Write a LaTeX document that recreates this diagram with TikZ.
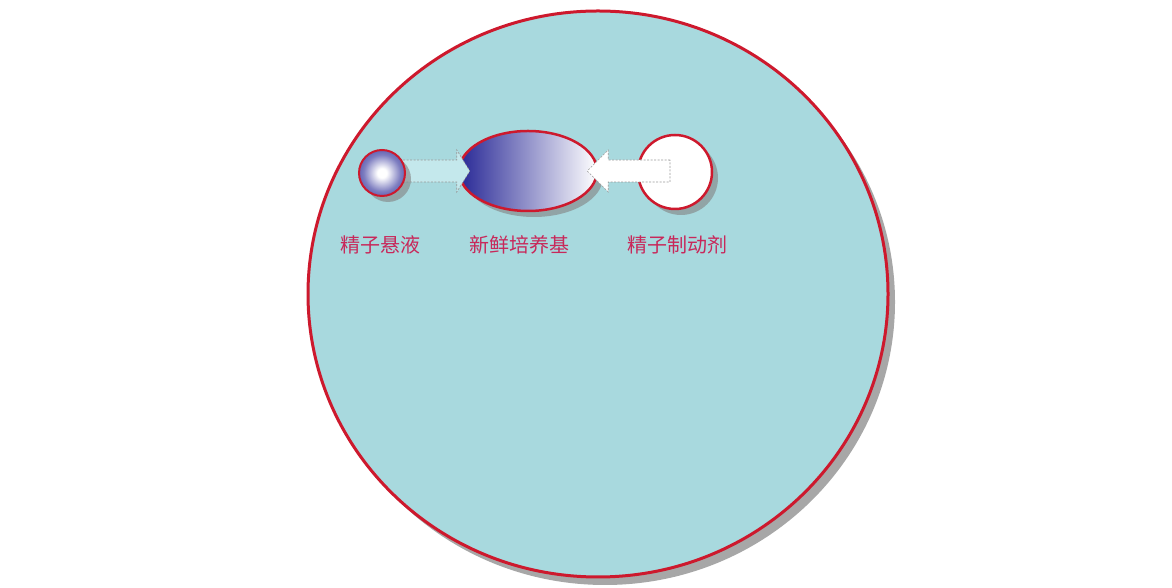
\documentclass[tikz,border=0pt]{standalone}
\usepackage{fontspec}
\newfontfamily\cjkfont{Noto Sans CJK SC}
\usetikzlibrary{shapes.geometric,shadows,calc}

\definecolor{dishblue}{RGB}{168,217,222}
\definecolor{rimred}{RGB}{205,25,45}
\definecolor{labelred}{RGB}{200,40,90}
\definecolor{mediumblue}{RGB}{40,40,150}
\definecolor{spherblue}{RGB}{70,70,165}
\definecolor{arrowcyan}{RGB}{196,232,236}
\definecolor{shadowgray}{RGB}{130,130,130}

\pgfdeclareradialshading{spheretone}{\pgfpoint{0bp}{0bp}}{%
  color(0bp)=(white); color(5bp)=(white); color(20bp)=(spherblue!70!white);
  color(32bp)=(spherblue); color(50bp)=(spherblue)}

\tikzset{
  rim/.style={draw=rimred, line width=2.5pt, inner sep=0pt},
  dropgray/.style={drop shadow={shadow xshift=6pt, shadow yshift=-6pt, fill=shadowgray, opacity=0.6}},
  flowarrow/.style={draw=gray!80, line width=0.6pt, dash pattern=on 2pt off 1.5pt},
  caption/.style={font=\cjkfont\fontsize{20}{24}\selectfont, text=labelred, inner sep=0pt},
}

\begin{document}
\begin{tikzpicture}[x=1pt,y=1pt]
    \useasboundingbox (0,0) rectangle (1172,588);

    % culture dish
    \node[ellipse, rim, line width=3pt, fill=dishblue, minimum width=580, minimum height=566,
          drop shadow={shadow xshift=7pt, shadow yshift=-8pt, fill=shadowgray, opacity=0.7}] (dish) at (598,294) {};

    % fresh medium and stopper
    \node[ellipse, rim, minimum width=138, minimum height=80, left color=mediumblue, right color=white, dropgray] (medium) at (528,417) {};
    \node[circle, rim, fill=white, minimum size=74, dropgray] (stop) at (675,416) {};

    % flow arrows
    \coordinate (tipA) at ($(medium.west)+(12,0)$);
    \coordinate (tipB) at ($(medium.east)+(-11,0)$);
    \coordinate (tailB) at ($(stop.center |- tipB)+(-5,0)$);
    \draw[flowarrow, fill=arrowcyan] ($(382,0 |- tipA)+(0,11)$) -- ($(tipA)+(-13,11)$) -- ($(tipA)+(-13,21)$)
        -- (tipA) -- ($(tipA)+(-13,-21)$) -- ($(tipA)+(-13,-11)$) -- ($(382,0 |- tipA)+(0,-11)$);
    \draw[flowarrow, fill=white] ($(tailB)+(0,11)$) -- ($(tipB)+(21,11)$) -- ($(tipB)+(21,21)$)
        -- (tipB) -- ($(tipB)+(21,-21)$) -- ($(tipB)+(21,-11)$) -- ($(tailB)+(0,-11)$) -- cycle;

    % sperm suspension
    \node[circle, rim, line width=2pt, minimum size=46, shading=spheretone, dropgray] (sus) at (382,415) {};

    % labels
    \node[caption] (lsus) at (380,343) {精子悬液};
    \node[caption] (lmedium) at (519,343) {新鲜培养基};
    \node[caption] (lstop) at (677,343) {精子制动剂};
\end{tikzpicture}
\end{document}
